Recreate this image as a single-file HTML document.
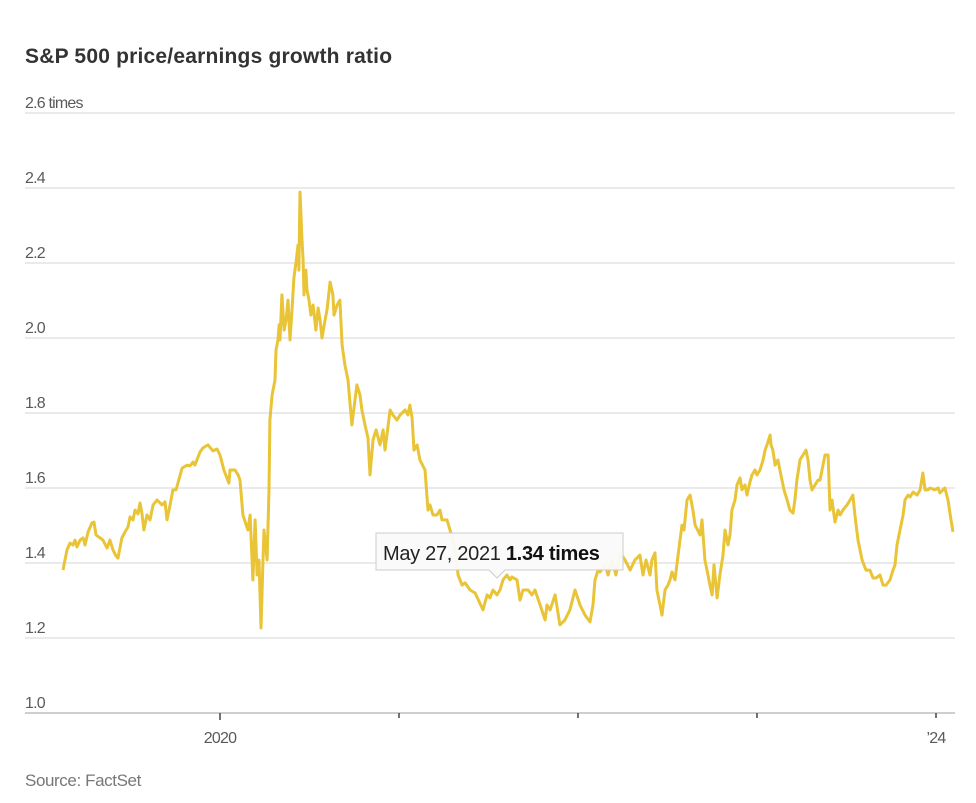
<!DOCTYPE html>
<html><head><meta charset="utf-8"><style>
html,body{margin:0;padding:0;background:#fff;width:976px;height:803px;overflow:hidden;font-family:"Liberation Sans",sans-serif}
</style></head><body>
<svg id="chart" width="976" height="803" xmlns="http://www.w3.org/2000/svg">
<text x="25" y="63" font-size="21" font-weight="bold" fill="#333" letter-spacing="0.2" font-family="Liberation Sans, sans-serif">S&amp;P 500 price/earnings growth ratio</text>
<g id="grid"></g><g id="xaxis"></g>
<path id="line" fill="none" stroke="#e9c436" stroke-width="3" stroke-linejoin="round"/>
<g id="tooltip">
<path d="M376,533 H623 V570 H505 L497,578 L489,570 H376 Z" fill="#fafafa" fill-opacity="0.95" stroke="#ccc" stroke-width="1"/>
<text x="383" y="560" font-size="20" fill="#222" letter-spacing="-0.3">May 27, 2021 <tspan font-weight="bold" fill="#111">1.34 times</tspan></text>
</g>
<text x="25" y="786" font-size="17" fill="#777" letter-spacing="-0.4">Source: FactSet</text>
</svg>
<script>
const yTicks=[1.0,1.2,1.4,1.6,1.8,2.0,2.2,2.4,2.6];
const yTickLabels=["1.0","1.2","1.4","1.6","1.8","2.0","2.2","2.4","2.6 times"];
const xTicks=[2020,2021,2022,2023,2024];
const xTickLabels=["2020","","","","\u201924"];
const dates=[2019.123,2019.145,2019.162,2019.179,2019.190,2019.201,2019.218,2019.235,2019.246,2019.263,2019.285,2019.296,2019.307,2019.330,2019.346,2019.369,2019.385,2019.402,2019.419,2019.430,2019.452,2019.469,2019.486,2019.497,2019.514,2019.525,2019.542,2019.553,2019.564,2019.575,2019.592,2019.609,2019.626,2019.648,2019.676,2019.693,2019.704,2019.721,2019.737,2019.754,2019.765,2019.788,2019.816,2019.832,2019.849,2019.860,2019.888,2019.905,2019.933,2019.961,2019.983,2020.000,2020.022,2020.050,2020.056,2020.084,2020.101,2020.112,2020.128,2020.156,2020.168,2020.184,2020.196,2020.207,2020.218,2020.229,2020.240,2020.246,2020.263,2020.274,2020.279,2020.291,2020.307,2020.313,2020.324,2020.330,2020.335,2020.346,2020.358,2020.369,2020.380,2020.391,2020.402,2020.413,2020.425,2020.436,2020.441,2020.447,2020.458,2020.464,2020.469,2020.480,2020.486,2020.497,2020.508,2020.520,2020.536,2020.548,2020.559,2020.570,2020.587,2020.598,2020.615,2020.631,2020.637,2020.654,2020.670,2020.682,2020.698,2020.715,2020.737,2020.754,2020.765,2020.782,2020.793,2020.810,2020.827,2020.838,2020.855,2020.872,2020.894,2020.911,2020.922,2020.950,2020.966,2020.989,2021.006,2021.034,2021.050,2021.061,2021.073,2021.084,2021.101,2021.117,2021.145,2021.162,2021.173,2021.190,2021.212,2021.229,2021.240,2021.268,2021.285,2021.313,2021.330,2021.352,2021.369,2021.397,2021.425,2021.469,2021.492,2021.508,2021.525,2021.547,2021.564,2021.581,2021.603,2021.620,2021.631,2021.659,2021.676,2021.693,2021.721,2021.743,2021.760,2021.788,2021.816,2021.827,2021.844,2021.872,2021.899,2021.927,2021.955,2021.983,2022.011,2022.039,2022.067,2022.084,2022.095,2022.112,2022.123,2022.151,2022.168,2022.190,2022.212,2022.235,2022.263,2022.291,2022.318,2022.346,2022.363,2022.380,2022.402,2022.413,2022.430,2022.441,2022.458,2022.469,2022.486,2022.503,2022.514,2022.525,2022.542,2022.559,2022.570,2022.581,2022.592,2022.609,2022.626,2022.642,2022.654,2022.682,2022.693,2022.709,2022.726,2022.737,2022.749,2022.760,2022.777,2022.793,2022.810,2022.821,2022.838,2022.849,2022.860,2022.877,2022.888,2022.905,2022.916,2022.933,2022.944,2022.961,2022.972,2022.989,2023.000,2023.017,2023.034,2023.045,2023.056,2023.073,2023.078,2023.089,2023.101,2023.117,2023.128,2023.151,2023.168,2023.184,2023.201,2023.212,2023.223,2023.240,2023.257,2023.274,2023.285,2023.296,2023.307,2023.324,2023.341,2023.352,2023.363,2023.380,2023.397,2023.408,2023.419,2023.436,2023.453,2023.464,2023.480,2023.503,2023.520,2023.536,2023.547,2023.564,2023.587,2023.609,2023.631,2023.648,2023.665,2023.687,2023.704,2023.721,2023.743,2023.760,2023.771,2023.782,2023.799,2023.816,2023.827,2023.844,2023.855,2023.872,2023.894,2023.911,2023.927,2023.939,2023.955,2023.966,2023.994,2024.011,2024.022,2024.050,2024.067,2024.084,2024.095];
const values=[1.381,1.435,1.453,1.448,1.461,1.443,1.461,1.467,1.448,1.483,1.507,1.509,1.475,1.467,1.461,1.440,1.461,1.435,1.419,1.413,1.467,1.483,1.496,1.523,1.515,1.541,1.531,1.560,1.531,1.488,1.528,1.515,1.555,1.568,1.555,1.563,1.515,1.555,1.595,1.595,1.613,1.653,1.661,1.659,1.669,1.661,1.696,1.707,1.715,1.699,1.704,1.688,1.648,1.613,1.648,1.648,1.635,1.621,1.528,1.488,1.528,1.355,1.515,1.368,1.408,1.227,1.408,1.488,1.408,1.595,1.781,1.848,1.888,1.968,1.995,2.035,1.995,2.115,2.021,2.048,2.101,1.995,2.075,2.160,2.203,2.248,2.181,2.389,2.261,2.208,2.115,2.181,2.128,2.101,2.061,2.088,2.021,2.080,2.048,2.000,2.048,2.075,2.149,2.115,2.061,2.088,2.101,1.981,1.928,1.888,1.768,1.835,1.875,1.848,1.808,1.768,1.733,1.635,1.728,1.755,1.715,1.755,1.701,1.808,1.795,1.781,1.795,1.808,1.795,1.821,1.787,1.701,1.715,1.675,1.648,1.541,1.555,1.528,1.528,1.541,1.515,1.515,1.488,1.440,1.368,1.341,1.347,1.328,1.320,1.275,1.315,1.307,1.328,1.315,1.328,1.355,1.368,1.355,1.363,1.355,1.301,1.328,1.328,1.315,1.328,1.288,1.248,1.288,1.275,1.315,1.235,1.248,1.275,1.328,1.288,1.261,1.243,1.288,1.355,1.381,1.376,1.395,1.368,1.408,1.368,1.427,1.408,1.381,1.408,1.421,1.368,1.408,1.368,1.408,1.427,1.328,1.288,1.261,1.328,1.341,1.355,1.376,1.355,1.421,1.461,1.501,1.488,1.568,1.581,1.541,1.501,1.475,1.515,1.408,1.368,1.341,1.315,1.395,1.307,1.368,1.421,1.488,1.448,1.475,1.541,1.568,1.608,1.627,1.595,1.608,1.581,1.616,1.635,1.648,1.635,1.648,1.675,1.701,1.715,1.741,1.715,1.701,1.661,1.675,1.648,1.595,1.568,1.541,1.533,1.568,1.621,1.675,1.688,1.701,1.675,1.621,1.595,1.608,1.621,1.621,1.648,1.688,1.688,1.541,1.568,1.509,1.541,1.528,1.541,1.555,1.568,1.581,1.528,1.461,1.408,1.381,1.381,1.360,1.360,1.368,1.341,1.341,1.355,1.381,1.395,1.448,1.488,1.528,1.568,1.581,1.576,1.589,1.581,1.595,1.640,1.595,1.595,1.600,1.595,1.600,1.587,1.600,1.568,1.515,1.483];

const NS="http://www.w3.org/2000/svg";
const plotLeft=25,plotRight=955;
function xScale(t){return 220+(t-2020)*179;}
function yScale(v){return 713-(v-1.0)*375;}
const grid=document.getElementById('grid');
yTicks.forEach((v,i)=>{
  const y=yScale(v);
  const l=document.createElementNS(NS,'line');
  l.setAttribute('x1',plotLeft);l.setAttribute('x2',plotRight);
  l.setAttribute('y1',y);l.setAttribute('y2',y);
  l.setAttribute('stroke',i===0?'#cfcfcf':'#e3e3e3');l.setAttribute('stroke-width',i===0?2:1.5);
  
  
  grid.appendChild(l);
  const t=document.createElementNS(NS,'text');
  t.setAttribute('x',plotLeft);t.setAttribute('y',y-5);
  t.setAttribute('font-size','16');t.setAttribute('fill','#5a5a5a');t.setAttribute('letter-spacing','-0.8');
  t.textContent=yTickLabels[i];
  
  
  grid.appendChild(t);
});
const xa=document.getElementById('xaxis');
xTicks.forEach((v,i)=>{
  const x=xScale(v);
  const l=document.createElementNS(NS,'line');
  l.setAttribute('x1',x);l.setAttribute('x2',x);l.setAttribute('y1',713);l.setAttribute('y2',i===0?720:718);
  l.setAttribute('stroke','#444');l.setAttribute('stroke-width',1.5);
  
  
  xa.appendChild(l);
  if(xTickLabels[i]){
    const t=document.createElementNS(NS,'text');
    t.setAttribute('x',x);t.setAttribute('y',743);t.setAttribute('text-anchor','middle');
    t.setAttribute('font-size','16');t.setAttribute('fill','#5a5a5a');t.setAttribute('letter-spacing','-0.8');
    t.textContent=xTickLabels[i];
    
    
    xa.appendChild(t);
  }
});
let d='';
dates.forEach((t,i)=>{d+=(i?'L':'M')+xScale(t).toFixed(1)+','+yScale(values[i]).toFixed(1);});
document.getElementById('line').setAttribute('d',d);
</script>
</body></html>
